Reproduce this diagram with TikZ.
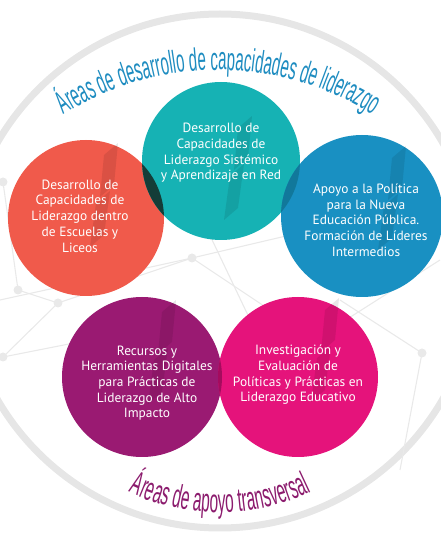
\documentclass[tikz,border=0pt]{standalone}
\usepackage{fontspec}
\setmainfont{PT Sans}
\newfontfamily\arcfont[FakeStretch=0.47]{Liberation Sans}
\definecolor{areaRed}{HTML}{F05A4B}
\definecolor{areaTeal}{HTML}{16B2B4}
\definecolor{areaBlue}{HTML}{1990C2}
\definecolor{areaPurple}{HTML}{9A1A72}
\definecolor{areaPink}{HTML}{E5137B}
\definecolor{ovRedTeal}{HTML}{143D38}
\definecolor{ovTealBlue}{HTML}{11789B}
\definecolor{ovPurplePink}{HTML}{A50B5E}
\definecolor{arcBlue}{HTML}{1E8CC0}
\definecolor{arcPurple}{HTML}{8C1C6E}
\definecolor{ringGray}{HTML}{E6E6E6}
\definecolor{netGray}{HTML}{E9E9E9}
\usetikzlibrary{decorations.text}

\begin{document}
\begin{tikzpicture}[x=1pt, y=1pt,
  area/.style={circle, inner sep=0pt},
  areatext/.style={text=white, align=center, font=\fontsize{13.4}{15.7}\selectfont},
  net/.style={draw=netGray, line width=1.1pt},
  netdot/.style={fill=netGray},
  flag/.pic={
    \fill[black, opacity=.09] (0,0) -- (14,12) -- (10,-30) -- (-4,-42) -- cycle;
    \fill[black, opacity=.09] (-8,-48) -- (6,-36) -- (0,-80) -- (-14,-92) -- cycle;}]

  \useasboundingbox (0,0) rectangle (440,550);

  % outer ring
  \draw[ringGray, line width=7pt] (220,279) circle (257);

  % network in the background
  \coordinate (n1) at (3,368);
  \coordinate (n2) at (18,260);
  \coordinate (n3) at (58,247);
  \coordinate (n4) at (3,193);
  \coordinate (n5) at (192,292);
  \coordinate (n6) at (422,197);
  \coordinate (n7) at (0,250);
  \coordinate (n8) at (440,350);
  \coordinate (n9) at (300,220);
  \coordinate (n10) at (205,325);
  \coordinate (n11) at (255,220);
  \coordinate (n12) at (140,220);
  \coordinate (n13) at (400,80);
  \coordinate (n14) at (340,250);
  \coordinate (n15) at (440,290);
  \coordinate (n16) at (330,220);
  \draw[net] (n1) -- (n2) -- (n3) -- (n4) -- (n12);
  \draw[net] (n7) -- (n5) -- (n8);
  \draw[net] (n3) -- (n5) -- (n9);
  \draw[net] (n10) -- (n11);
  \draw[net] (n6) -- (n13);
  \draw[net] (n6) -- (n14);
  \draw[net] (n15) -- (n16);
  \foreach \p in {n1,n2,n3,n4,n5,n6}
    \fill[netdot] (\p) circle (4.5);

  % circles
  \node[area, fill=areaRed, minimum size=156pt] (red) at (86,332) {};
  \node[area, fill=areaTeal, minimum size=158pt] (teal) at (221,389) {};
  \node[area, fill=areaBlue, minimum size=162pt] (blue) at (362,334) {};
  \node[area, fill=areaPurple, minimum size=160pt] (purple) at (142,173) {};
  \node[area, fill=areaPink, minimum size=160pt] (pink) at (298,173) {};

  % watermark
  \pic at (104,395) {flag};
  \pic at (238,422) {flag};
  \pic at (392,392) {flag};
  \pic at (162,238) {flag};
  \pic at (325,240) {flag};

  % overlaps
  \begin{scope}
    \clip (red.center) circle (78);
    \fill[ovRedTeal] (teal.center) circle (79);
  \end{scope}
  \begin{scope}
    \clip (teal.center) circle (79);
    \fill[ovTealBlue] (blue.center) circle (81);
  \end{scope}
  \begin{scope}
    \clip (purple.center) circle (80);
    \fill[ovPurplePink] (pink.center) circle (80);
  \end{scope}

  % labels
  \node[areatext] (redtxt) at (80,334) {Desarrollo de\\Capacidades de\\Liderazgo dentro\\de Escuelas y\\Liceos};
  \node[areatext] (tealtxt) at (221,397) {Desarrollo de\\Capacidades de\\Liderazgo Sistémico\\y Aprendizaje en Red};
  \node[areatext] (bluetxt) at (366,330) {Apoyo a la Política\\para la Nueva\\Educación Pública.\\Formación de Líderes\\Intermedios};
  \node[areatext] (purpletxt) at (147,167) {Recursos y\\Herramientas Digitales\\para Prácticas de\\Liderazgo de Alto\\Impacto};
  \node[areatext] (pinktxt) at (298,175) {Investigación y\\Evaluación de\\Políticas y Prácticas en\\Liderazgo Educativo};

  % titles on the arcs
  \path[decorate, decoration={text along path, text align=center,
    text={|\arcfont\fontsize{32}{32}\selectfont\color{arcBlue}|Áreas de desarrollo de capacidades de liderazgo}}]
    (218,191) ++(140:289) arc[start angle=140, end angle=40, radius=289];
  \path[decorate, decoration={text along path, text align=center,
    text={|\arcfont\fontsize{33}{33}\selectfont\color{arcPurple}|Áreas de apoyo transversal}}]
    (220,249.5) ++(230:212) arc[start angle=230, end angle=310, radius=212];
\end{tikzpicture}
\end{document}
